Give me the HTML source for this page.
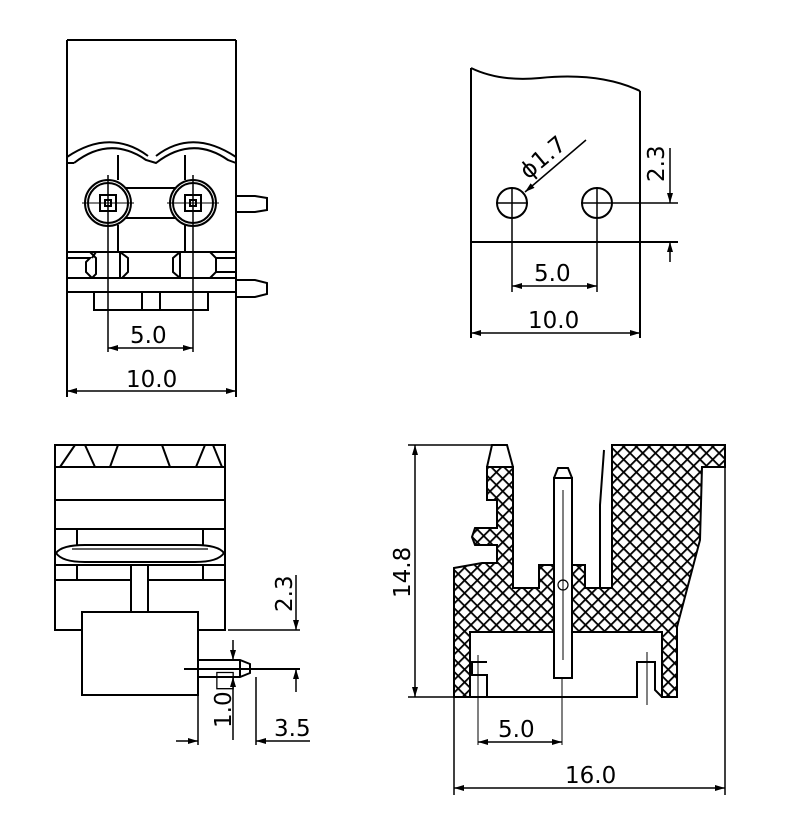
<!DOCTYPE html>
<html><head><meta charset="utf-8"><style>body{margin:0;background:#fff}svg{display:block}text{font-family:"DejaVu Sans","Liberation Sans",sans-serif;font-size:23px;fill:#000}</style></head>
<body>
<svg width="800" height="832" viewBox="0 0 800 832" xmlns="http://www.w3.org/2000/svg">
<defs>
<pattern id="h" width="9" height="9" patternUnits="userSpaceOnUse" patternTransform="rotate(45)">
<rect width="9" height="9" fill="#fff"/>
<line x1="0" y1="0" x2="9" y2="0" stroke="#000" stroke-width="3.6"/>
<line x1="0" y1="0" x2="0" y2="9" stroke="#000" stroke-width="3.6"/>
</pattern>
<marker id="a" viewBox="0 0 10 6" refX="10" refY="3" markerWidth="10" markerHeight="6" orient="auto-start-reverse" markerUnits="userSpaceOnUse"><path d="M0,0 L10,3 L0,6z" fill="#000"/></marker>
</defs>
<g fill="none" stroke="#000" stroke-width="2">
<!-- TOP LEFT -->
<line x1="67" y1="40" x2="236" y2="40"/>
<line x1="67" y1="40" x2="67" y2="397"/>
<line x1="236" y1="40" x2="236" y2="397"/>
<path d="M74,163 Q110,135 146,160 L156,163 Q192,135 228,160 L236,163"/>
<path d="M67,163 L74,163 M67,157 Q110,128 148,156 M156,156 Q192,128 236,157"/>
<line x1="118" y1="155" x2="118" y2="180"/><line x1="185" y1="155" x2="185" y2="180"/>
<circle cx="108" cy="203" r="23"/><circle cx="108" cy="203" r="20"/>
<circle cx="193" cy="203" r="23"/><circle cx="193" cy="203" r="20"/>
<rect x="100" y="195" width="16" height="16"/><rect x="105" y="200" width="6" height="6"/>
<rect x="185" y="195" width="16" height="16"/><rect x="190" y="200" width="6" height="6"/>
<line x1="82" y1="203" x2="134" y2="203" stroke-width="1"/><line x1="167" y1="203" x2="219" y2="203" stroke-width="1"/>
<line x1="125" y1="188" x2="176" y2="188"/><line x1="125" y1="218" x2="176" y2="218"/>
<line x1="118" y1="225" x2="118" y2="252"/><line x1="185" y1="225" x2="185" y2="252"/>
<line x1="108" y1="175" x2="108" y2="352" stroke-width="1.5"/><line x1="193" y1="175" x2="193" y2="352" stroke-width="1.5"/>
<path d="M236,196 L255,196 L267,198 L267,210 L255,212 L236,212"/>
<line x1="67" y1="252" x2="236" y2="252"/><line x1="67" y1="278" x2="236" y2="278"/><line x1="67" y1="292" x2="236" y2="292"/>
<path d="M67,258 H90 L86,262 V272 L92,278 M90,252 L96,258 V274 L92,278"/>
<path d="M96,252 L92,258 M120,252 L128,258 V272 L122,278 M120,252 V278"/>
<path d="M180,252 L173,258 V272 L180,278 M180,252 V278 M210,252 L216,258 V272 L210,278 M216,258 H236 M216,272 H236"/>
<path d="M236,280 L255,280 L267,283 L267,294 L255,297 L236,297"/>
<rect x="94" y="292" width="114" height="18"/><line x1="142" y1="292" x2="142" y2="310"/><line x1="160" y1="292" x2="160" y2="310"/>
<line x1="108" y1="348" x2="193" y2="348" stroke-width="1.5" marker-start="url(#a)" marker-end="url(#a)"/>
<line x1="67" y1="391" x2="236" y2="391" stroke-width="1.5" marker-start="url(#a)" marker-end="url(#a)"/>
<!-- TOP RIGHT -->
<path d="M471,68 Q500,82 540,78 Q600,72 640,91"/>
<line x1="471" y1="68" x2="471" y2="338"/><line x1="640" y1="91" x2="640" y2="338"/>
<line x1="471" y1="242" x2="678" y2="242"/>
<circle cx="512" cy="203" r="15"/><circle cx="597" cy="203" r="15"/>
<line x1="496" y1="203" x2="528" y2="203" stroke-width="1.5"/><line x1="581" y1="203" x2="678" y2="203" stroke-width="1.5"/>
<line x1="512" y1="187" x2="512" y2="292" stroke-width="1.5"/><line x1="597" y1="187" x2="597" y2="292" stroke-width="1.5"/>
<line x1="586" y1="140" x2="525" y2="192" stroke-width="1.5" marker-end="url(#a)"/>
<line x1="670" y1="148" x2="670" y2="203" stroke-width="1.5" marker-end="url(#a)"/>
<line x1="670" y1="262" x2="670" y2="242" stroke-width="1.5" marker-end="url(#a)"/>
<line x1="512" y1="286" x2="597" y2="286" stroke-width="1.5" marker-start="url(#a)" marker-end="url(#a)"/>
<line x1="471" y1="333" x2="640" y2="333" stroke-width="1.5" marker-start="url(#a)" marker-end="url(#a)"/>
<!-- BOTTOM LEFT -->
<rect x="55" y="445" width="170" height="185"/>
<path d="M55,467 H225 M55,500 H225 M55,529 H225 M55,565 H225 M55,580 H131 M148,580 H225"/>
<path d="M60,467 L75,445 M85,445 L95,467 M110,467 L118,445 M162,445 L170,467 M196,467 L205,445 M213,445 L222,467"/>
<path d="M77,529 V545 M203,529 V545 M77,565 V580 M203,565 V580"/>
<path d="M56,553 Q62,545 85,545 H195 Q218,545 224,553 Q218,562 195,562 H85 Q62,562 56,553 Z"/>
<line x1="72" y1="549" x2="208" y2="549" stroke-width="1.2"/>
<path d="M131,565 V612 M148,565 V612"/>
<rect x="82" y="612" width="116" height="83" fill="#fff"/>
<path d="M198,660 H240 L250,664 V673 L240,677 H198 M184,669 H300 M240,660 V677"/>
<line x1="228" y1="630" x2="300" y2="630" stroke-width="1.5"/>
<line x1="296" y1="575" x2="296" y2="630" stroke-width="1.5" marker-end="url(#a)"/>
<line x1="296" y1="692" x2="296" y2="669" stroke-width="1.5" marker-end="url(#a)"/>
<line x1="233" y1="640" x2="233" y2="660" stroke-width="1.5" marker-end="url(#a)"/>
<line x1="233" y1="740" x2="233" y2="677" stroke-width="1.5" marker-end="url(#a)"/>
<line x1="198" y1="695" x2="198" y2="745" stroke-width="1.5"/><line x1="256" y1="677" x2="256" y2="745" stroke-width="1.5"/>
<line x1="176" y1="741" x2="198" y2="741" stroke-width="1.5" marker-end="url(#a)"/>
<line x1="310" y1="741" x2="256" y2="741" stroke-width="1.5" marker-end="url(#a)"/>
<!-- BOTTOM RIGHT -->
<path fill="url(#h)" d="M454,697 L454,568 L482,563 L497,563 L497,545 L475,545 L472,537 L475,528 L497,528 L497,500 L487,500 L487,467 L513,467 L513,588 L539,588 L539,565 L585,565 L585,588 L612,588 L612,445 L725,445 L725,467 L702,467 L700,540 L677,627 L677,697 L662,697 L662,632 L470,632 L470,697 Z"/>
<path d="M487,467 L492,445 L507,445 L513,467"/>
<path d="M600,588 V505 L604,450"/>
<rect x="554" y="478" width="18" height="200" fill="#fff"/>
<path d="M554,478 L558,468 L568,468 L572,478"/><line x1="563" y1="490" x2="563" y2="660" stroke-width="1"/>
<circle cx="563" cy="585" r="5" stroke-width="1.2"/>
<path d="M470,697 H487 V675 L472,675 V662 H487 M487,675 V697 H637 V675 L637,662 H655 V690 L662,697"/>
<line x1="478" y1="655" x2="478" y2="745" stroke-width="1"/><line x1="647" y1="652" x2="647" y2="705" stroke-width="1"/>
<line x1="562" y1="678" x2="562" y2="745" stroke-width="1"/>
<line x1="408" y1="445" x2="492" y2="445" stroke-width="1.5"/><line x1="408" y1="697" x2="454" y2="697" stroke-width="1.5"/>
<line x1="415" y1="445" x2="415" y2="697" stroke-width="1.5" marker-start="url(#a)" marker-end="url(#a)"/>
<line x1="454" y1="697" x2="454" y2="795" stroke-width="1.5"/><line x1="725" y1="467" x2="725" y2="795" stroke-width="1.5"/>
<line x1="478" y1="742" x2="562" y2="742" stroke-width="1.5" marker-start="url(#a)" marker-end="url(#a)"/>
<line x1="454" y1="788" x2="725" y2="788" stroke-width="1.5" marker-start="url(#a)" marker-end="url(#a)"/>
</g>
<text x="130" y="343">5.0</text>
<text x="126" y="387">10.0</text>
<text x="534" y="281">5.0</text>
<text x="528" y="328">10.0</text>
<text transform="translate(528,180) rotate(-40)">ϕ1.7</text>
<text transform="translate(664,182) rotate(-90)">2.3</text>
<text transform="translate(292,612) rotate(-90)">2.3</text>
<text transform="translate(231,728) rotate(-90)">1.0□</text>
<text x="274" y="736">3.5</text>
<text transform="translate(410,598) rotate(-90)">14.8</text>
<text x="498" y="737">5.0</text>
<text x="565" y="783">16.0</text>
</svg>
</body></html>
